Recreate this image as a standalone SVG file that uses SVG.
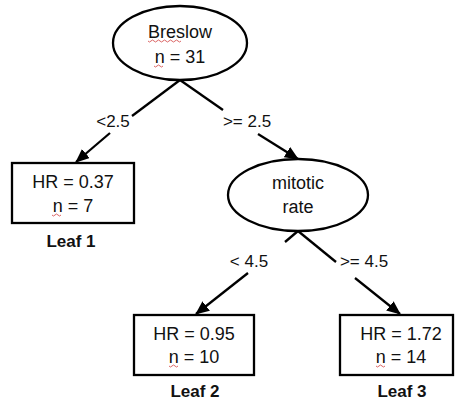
<svg xmlns="http://www.w3.org/2000/svg" width="456" height="402" viewBox="0 0 456 402">
<style>
.shape{fill:#fff;stroke:#000;stroke-width:2.3}
.edge{stroke:#000;stroke-width:2.3;fill:none}
.t{font-family:"Liberation Sans",Arial,sans-serif;font-size:18px;fill:#111;text-anchor:middle}
.lbl{font-family:"Liberation Sans",Arial,sans-serif;font-size:17px;fill:#111;text-anchor:middle}
.leaf{font-family:"Liberation Sans",Arial,sans-serif;font-size:17px;font-weight:bold;fill:#111;text-anchor:middle}
.sq{stroke:#d04040;stroke-width:0.8;fill:none}
</style>
<defs>
<marker id="arr" markerUnits="userSpaceOnUse" markerWidth="14" markerHeight="12" refX="13" refY="6" orient="auto">
<path d="M0,0 L14,6 L0,12 z" fill="#000"/>
</marker>
</defs>
<rect width="456" height="402" fill="#fff"/>
<g id="connectors">
<line class="edge" x1="180" y1="80" x2="132" y2="116"/>
<line class="edge" x1="110" y1="133" x2="76" y2="162" marker-end="url(#arr)"/>
<line class="edge" x1="180" y1="80" x2="223" y2="110"/>
<line class="edge" x1="258" y1="134" x2="298" y2="159" marker-end="url(#arr)"/>
<line class="edge" x1="298" y1="231" x2="285" y2="242"/>
<line class="edge" x1="248" y1="273" x2="196" y2="314" marker-end="url(#arr)"/>
<line class="edge" x1="298" y1="231" x2="336" y2="262"/>
<line class="edge" x1="355" y1="278" x2="400" y2="314" marker-end="url(#arr)"/>
<text class="lbl" x="113" y="127">&lt;2.5</text>
<text class="lbl" x="247" y="127">&gt;= 2.5</text>
<text class="lbl" x="249" y="267">&lt; 4.5</text>
<text class="lbl" x="364" y="267">&gt;= 4.5</text>
</g>
<g id="breslow">
<ellipse class="shape" cx="180" cy="43" rx="67" ry="37"/>
<text class="t" x="180" y="38">Breslow</text>
<text class="t" x="180" y="63">n = 31</text>
<path class="sq" d="M148,41 q1.5,2 3,0 t3,0 t3,0 t3,0 t3,0 t3,0 t3,0 t3,0 t3,0 t3,0 t3,0"/>
<path class="sq" d="M154,66 q1.5,2 3,0 t3,0 t3,0"/>
</g>
<g id="leaf1">
<rect class="shape" x="12" y="163" width="122" height="60"/>
<text class="t" x="73" y="188">HR = 0.37</text>
<text class="t" x="73" y="212">n = 7</text>
<path class="sq" d="M52,215 q1.5,2 3,0 t3,0 t3,0"/>
<text class="leaf" x="71" y="247">Leaf 1</text>
</g>
<g id="mitotic">
<ellipse class="shape" cx="298" cy="195" rx="70" ry="36"/>
<text class="t" x="298" y="189">mitotic</text>
<text class="t" x="298" y="213">rate</text>
</g>
<g id="leaf2">
<rect class="shape" x="134" y="315" width="120" height="60"/>
<text class="t" x="194" y="340">HR = 0.95</text>
<text class="t" x="194" y="363">n = 10</text>
<path class="sq" d="M169,366 q1.5,2 3,0 t3,0 t3,0"/>
<text class="leaf" x="195" y="397">Leaf 2</text>
</g>
<g id="leaf3">
<rect class="shape" x="340" y="315" width="113" height="60"/>
<text class="t" x="401" y="340">HR = 1.72</text>
<text class="t" x="401" y="363">n = 14</text>
<path class="sq" d="M376,366 q1.5,2 3,0 t3,0 t3,0"/>
<text class="leaf" x="402" y="397">Leaf 3</text>
</g>
</svg>
